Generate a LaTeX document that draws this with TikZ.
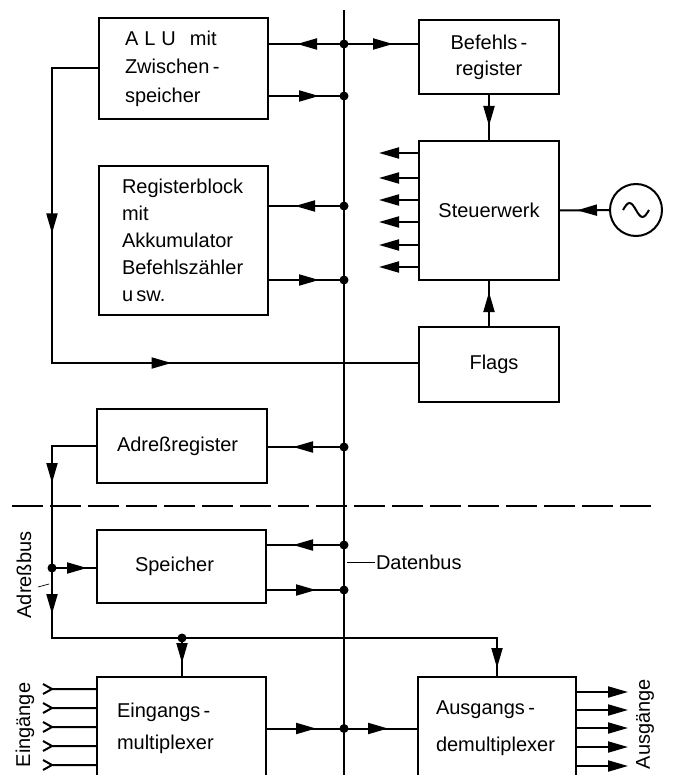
\documentclass[tikz,border=0pt]{standalone}
\usepackage{fontspec}
\setmainfont{Liberation Sans}
\usetikzlibrary{arrows.meta,decorations.markings}

\begin{document}
\begin{tikzpicture}[x=1pt,y=-1pt,
  line width=2pt,
  >={Triangle[length=20pt,width=11pt]},
  box/.style={draw, rectangle, inner sep=0pt, align=left,
    font=\fontsize{20}{27}\selectfont},
  cbox/.style={box, align=center},
  lbl/.style={font=\fontsize{20}{24}\selectfont, inner sep=0pt},
  arr at/.style={postaction={decorate, decoration={markings,
    mark=at position #1 with {\arrow{>}}}}},
  lead/.style={line width=0.7pt}
]
\useasboundingbox (0,0) rectangle (672,775);
\clip (0,0) rectangle (672,775);

% ---- functional blocks ----
\node[box, minimum width=169pt, minimum height=101pt, text width=117pt,
  font=\fontsize{20}{28.5}\selectfont] (alu) at (183.5,68.5)
  {A\kern6pt L\kern6pt U\kern14pt mit\\Zwischen\,-\\speicher};
\node[box, minimum width=169pt, minimum height=149pt, text width=123pt]
  (reg) at (183.5,240.5)
  {Registerblock\\mit\\Akkumulator\\Befehlszähler\\u\,sw.};
\node[cbox, minimum width=140pt, minimum height=74pt,
  font=\fontsize{20}{26}\selectfont] (befr) at (489,57)
  {Befehls\,-\\register};
\node[cbox, minimum width=140pt, minimum height=139pt] (steu) at (489,210.5)
  {Steuerwerk};
\node[cbox, minimum width=140pt, minimum height=75pt] (flags) at (489,364.5)
  {\kern10pt Flags};
\node[box, minimum width=170pt, minimum height=74pt, text width=130pt]
  (adr) at (182,446) {Adreßregister};
\node[box, minimum width=169pt, minimum height=73pt, text width=93pt]
  (spei) at (181.5,566.5) {Speicher};
\node[box, minimum width=169pt, minimum height=103pt, text width=129pt,
  font=\fontsize{20}{32}\selectfont] (ein) at (181.5,728.5)
  {Eingangs\,-\\multiplexer};
\node[box, minimum width=158pt, minimum height=103pt, text width=122pt,
  font=\fontsize{20}{33}\selectfont] (aus) at (497,728.5)
  {Ausgangs\,-\\\kern4pt demultiplexer};
\node[draw, circle, minimum size=52pt, inner sep=0pt] (osc) at (636,210) {};
\draw ([xshift=-13pt]osc.center) sin ++(6.5,-7) cos ++(6.5,7)
  sin ++(6.5,7) cos ++(6.5,-7);

% ---- data bus ----
\coordinate (btop) at (344,10);
\coordinate (bbot) at (344,780);
\draw (btop) -- (bbot);
\coordinate (b1) at (344,44);
\coordinate (b2) at (344,96);
\coordinate (b3) at (344,206);
\coordinate (b4) at (344,280);
\coordinate (b5) at (344,447);
\coordinate (b6) at (344,545);
\coordinate (b7) at (344,590);
\coordinate (b8) at (344,728.5);

\draw[arr at=47pt] (b1) -- (alu.east |- b1);
\draw[arr at=49pt] (b1) -- (befr.west |- b1);
\draw[arr at=50pt] (alu.east |- b2) -- (b2);
\draw[arr at=49pt] (b3) -- (reg.east |- b3);
\draw[arr at=50pt] (reg.east |- b4) -- (b4);
\draw[arr at=51pt] (b5) -- (adr.east |- b5);
\draw[arr at=51pt] (b6) -- (spei.east |- b6);
\draw[arr at=49pt] (spei.east |- b7) -- (b7);
\draw[arr at=49pt] (ein.east) -- (b8);
\draw[arr at=44pt] (b8) -- (aus.west);
\foreach \p in {b1,b2,b3,b4,b5,b6,b7,b8}
  \fill (\p) circle[radius=4.5pt];

% ---- control unit ----
\draw[arr at=31pt] (befr.south) -- (steu.north);
\draw[arr at=34pt] (flags.north) -- (steu.south);
\draw[arr at=32pt] (osc.west) -- (steu.east);
\foreach \y in {153,178,200,222,245,267}
  \draw[->] (steu.west |- 0,\y) -- ++(-39,0);

% ---- flag feedback from the ALU ----
\coordinate (lp) at (52,363);
\draw[arr at=211pt, arr at=460pt] (alu.west) -| (lp) -- (lp -| flags.west);

% ---- address bus ----
\coordinate (ab) at (52,638);
\coordinate (ad) at (52,568);
\coordinate (ae) at (182,638);
\draw[arr at=81pt, arr at=212pt, arr at=711pt] (adr.west) -| (ab) -| (aus.north);
\draw[arr at=35pt] (ad) -- (ad -| spei.west);
\draw[arr at=25pt] (ae) -- (ae |- ein.north);
\fill (ad) circle[radius=4.5pt];
\fill (ae) circle[radius=4.5pt];

% ---- memory boundary ----
\draw[dash pattern=on 31pt off 7pt] (12,506) -- (656,506);

% ---- inputs and outputs ----
\foreach \y in {689,708,727,746,765}
  \draw (ein.west |- 0,\y) -- (52,\y) (43,\y-5) -- (52,\y) -- (43,\y+5);
\foreach \y in {692,710,728,747,766}
  \draw[->] (aus.east |- 0,\y) -- (628,\y);

% ---- labels ----
\node[lbl, rotate=90] (lab) at (24,575) {Adreßbus};
\draw[lead] (38,587) -- (49,584);
\node[lbl, anchor=west] (ldb) at (375,562) {Datenbus};
\draw[lead] (347,562) -- (ldb.west);
\node[lbl, rotate=90] (lein) at (25,725) {Eingänge};
\node[lbl, rotate=90] (laus) at (645,724) {Ausgänge};
\end{tikzpicture}
\end{document}
